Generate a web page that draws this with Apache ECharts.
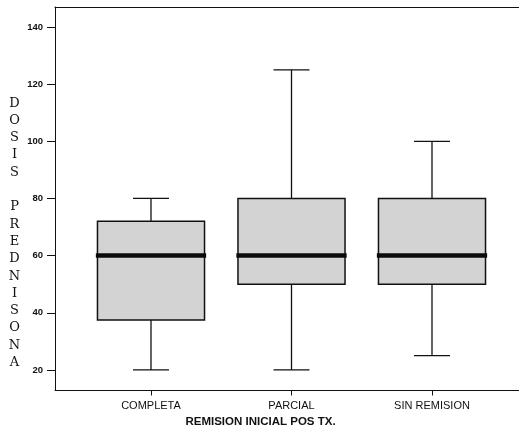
<!DOCTYPE html>
<html><head><meta charset="utf-8">
<script src="https://cdn.jsdelivr.net/npm/echarts@6/dist/echarts.min.js"></script>
<style>html,body{margin:0;padding:0;background:#fff}#c{width:519px;height:431px}</style>
</head><body><div id="c"></div>
<script>
// ---- data ----
const categories = ['COMPLETA', 'PARCIAL', 'SIN REMISION'];
const lowWhisker = [20, 20, 25];
const q1 = [37.5, 50, 50];
const median = [60, 60, 60];
const q3 = [72, 80, 80];
const highWhisker = [80, 125, 100];
const yTicks = [20, 40, 60, 80, 100, 120, 140];
const yTitle = 'DOSIS PREDNISONA';
const xTitle = 'REMISION INICIAL POS TX.';

const boxData = categories.map((c, i) => [i, lowWhisker[i], q1[i], median[i], q3[i], highWhisker[i]]);

function renderItem(params, api) {
  const x = api.value(0);
  const pMin = api.coord([x, api.value(1)]);
  const pQ1 = api.coord([x, api.value(2)]);
  const pMed = api.coord([x, api.value(3)]);
  const pQ3 = api.coord([x, api.value(4)]);
  const pMax = api.coord([x, api.value(5)]);
  const band = api.size([1, 0])[0];
  const bw = band * 0.762, cw = band * 0.256, mw = band * 0.785;
  const cx = pMed[0];
  const ls = { stroke: '#111', lineWidth: 1.3, fill: null };
  return {
    type: 'group',
    children: [
      { type: 'line', shape: { x1: cx, y1: pQ3[1], x2: cx, y2: pMax[1] }, style: ls },
      { type: 'line', shape: { x1: cx, y1: pQ1[1], x2: cx, y2: pMin[1] }, style: ls },
      { type: 'line', shape: { x1: cx - cw / 2, y1: pMax[1], x2: cx + cw / 2, y2: pMax[1] }, style: ls },
      { type: 'line', shape: { x1: cx - cw / 2, y1: pMin[1], x2: cx + cw / 2, y2: pMin[1] }, style: ls },
      { type: 'rect', shape: { x: cx - bw / 2, y: pQ3[1], width: bw, height: pQ1[1] - pQ3[1] },
        style: { fill: '#d3d3d3', stroke: '#111', lineWidth: 1.5 } },
      { type: 'line', shape: { x1: cx - mw / 2, y1: pMed[1], x2: cx + mw / 2, y2: pMed[1] },
        style: { stroke: '#0a0a0a', lineWidth: 4.5 } }
    ]
  };
}

const frameAxis = (pos) => ({
  type: 'value', gridIndex: 1, position: pos, min: 0, max: 1,
  axisLine: { show: true, onZero: false, lineStyle: { color: '#111', width: 1 } },
  axisTick: { show: false }, axisLabel: { show: false }, splitLine: { show: false }
});

const chart = echarts.init(document.getElementById('c'), null, { renderer: 'canvas' });
chart.setOption({
  animation: false,
  backgroundColor: '#fff',
  title: [
    { text: yTitle.split('').join('\n'), left: 14.5, top: 94.5, padding: 0, textAlign: 'center',
      textStyle: { fontFamily: 'DejaVu Serif', fontSize: 13, fontWeight: 'normal', lineHeight: 17.3, color: '#111' } },
    { text: xTitle, left: 260.5, top: 415, padding: 0, textAlign: 'center',
      textStyle: { fontFamily: 'Liberation Sans', fontSize: 11.5, fontWeight: 'bold', color: '#111', lineHeight: 14 } }
  ],
  grid: [
    { left: 80.75, width: 421.5, top: 7, bottom: 40.5, outerBoundsMode: 'none' },
    { left: 55, width: 530, top: 7, bottom: 40.5, outerBoundsMode: 'none' }
  ],
  xAxis: [
    { type: 'category', gridIndex: 0, data: categories,
      axisLine: { show: false },
      axisTick: { show: true, alignWithLabel: true, length: 5, lineStyle: { color: '#111' } },
      axisLabel: { margin: 10, fontSize: 11, color: '#111', fontFamily: 'Liberation Sans' } },
    frameAxis('bottom'),
    frameAxis('top')
  ],
  yAxis: [
    { type: 'value', gridIndex: 0, min: 12.8, max: 147, offset: 25.75,
      splitLine: { show: false },
      axisLine: { show: true, lineStyle: { color: '#111' } },
      axisTick: { show: true, length: 8, customValues: yTicks, lineStyle: { color: '#111' } },
      axisLabel: { customValues: yTicks, margin: 12, fontSize: 9.5, fontWeight: 'bold', color: '#111', fontFamily: 'Liberation Sans' } },
    { type: 'value', gridIndex: 1, show: false }
  ],
  series: [
    { type: 'custom', xAxisIndex: 0, yAxisIndex: 0, renderItem: renderItem, data: boxData,
      encode: { x: 0, y: [1, 2, 3, 4, 5] } }
  ]
});
</script>
</body></html>
